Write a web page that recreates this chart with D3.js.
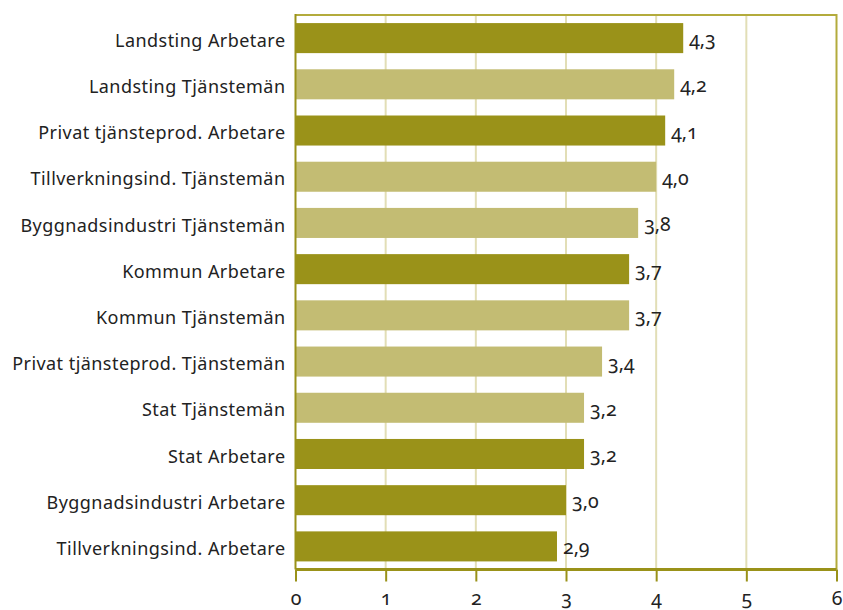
<!DOCTYPE html>
<meta charset="utf-8" />
<style>
  body { margin: 0; background: #fff; }
  .cat text { font-family: "Noto Sans", "Open Sans", sans-serif; font-size: 18px; letter-spacing: 0.45px; fill: #222; }
  .val, .xax text { font-family: "Noto Sans", "Lato", sans-serif; font-size: 19.5px; fill: #222; font-variant-numeric: oldstyle-nums; }
</style>
<svg width="843" height="610"></svg>
<script src="https://d3js.org/d3.v7.min.js"></script>
<script>
  var categories = [
    "Landsting Arbetare",
    "Landsting Tjänstemän",
    "Privat tjänsteprod. Arbetare",
    "Tillverkningsind. Tjänstemän",
    "Byggnadsindustri Tjänstemän",
    "Kommun Arbetare",
    "Kommun Tjänstemän",
    "Privat tjänsteprod. Tjänstemän",
    "Stat Tjänstemän",
    "Stat Arbetare",
    "Byggnadsindustri Arbetare",
    "Tillverkningsind. Arbetare"
  ];
  var values = [4.3, 4.2, 4.1, 4.0, 3.8, 3.7, 3.7, 3.4, 3.2, 3.2, 3.0, 2.9];
  var xTicks = [0, 1, 2, 3, 4, 5, 6];

  var dark = "#9a9219", light = "#c3bc73", grid = "#e2deb6", frame = "#b3ab3c";

  var svg = d3.select("svg");
  var pLeft = 295.5, pRight = 836.5, pTop = 15, pBottom = 569.5;

  var x = d3.scaleLinear().domain([0, 6]).range([pLeft, pRight]);
  var y = d3.scaleBand().domain(categories).range([pTop, pBottom])
    .paddingInner(0.35).paddingOuter(0.175);

  // gridlines
  svg.append("g").selectAll("line")
    .data(xTicks.slice(1, 6))
    .enter().append("line")
    .attr("x1", function (d) { return x(d); })
    .attr("x2", function (d) { return x(d); })
    .attr("y1", pTop).attr("y2", pBottom)
    .attr("stroke", grid).attr("stroke-width", 2);

  // frame (top + right)
  svg.append("path")
    .attr("d", "M" + pLeft + "," + pTop + "H" + pRight + "V" + pBottom)
    .attr("fill", "none").attr("stroke", frame).attr("stroke-width", 2);

  // bars
  var data = categories.map(function (c, i) { return { cat: c, v: values[i] }; });
  svg.append("g").selectAll("rect")
    .data(data)
    .enter().append("rect")
    .attr("x", x(0))
    .attr("y", function (d) { return y(d.cat); })
    .attr("width", function (d) { return x(d.v) - x(0); })
    .attr("height", y.bandwidth())
    .attr("fill", function (d) { return /Arbetare$/.test(d.cat) ? dark : light; });

  // value labels
  svg.append("g").selectAll("text")
    .data(data)
    .enter().append("text")
    .attr("class", "val")
    .attr("x", function (d) { return x(d.v) + 6; })
    .attr("y", function (d) { return y(d.cat) + y.bandwidth() / 2 + 8; })
    .text(function (d) { return d3.format(".1f")(d.v).replace(".", ","); });

  // category labels
  svg.append("g").attr("class", "cat").selectAll("text")
    .data(categories)
    .enter().append("text")
    .attr("x", pLeft - 10)
    .attr("y", function (d) { return y(d) + y.bandwidth() / 2; })
    .attr("dy", "0.48em")
    .attr("text-anchor", "end")
    .text(function (d) { return d; });

  // left axis line
  svg.append("line")
    .attr("x1", pLeft).attr("x2", pLeft)
    .attr("y1", pTop - 1).attr("y2", pBottom)
    .attr("stroke", dark).attr("stroke-width", 2);

  // bottom axis
  var xAxis = d3.axisBottom(x).tickValues(xTicks).tickSize(12).tickPadding(10)
    .tickFormat(d3.format("d"));
  var gx = svg.append("g").attr("class", "xax")
    .attr("transform", "translate(0," + pBottom + ")")
    .call(xAxis);
  gx.select(".domain").attr("stroke", dark).attr("stroke-width", 3)
    .attr("d", "M" + pLeft + ",0H" + pRight);
  gx.selectAll(".tick line").attr("stroke", dark).attr("stroke-width", 2);
</script>
